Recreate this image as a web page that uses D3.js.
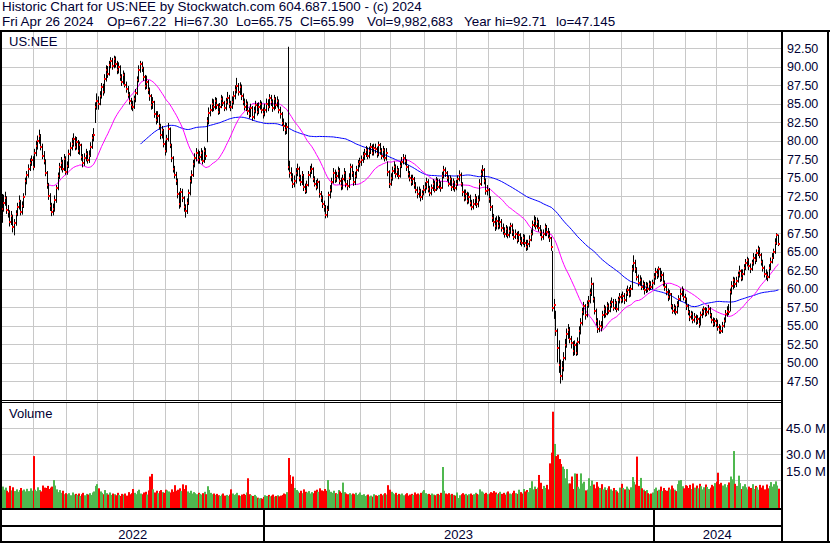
<!DOCTYPE html>
<html>
<head>
<meta charset="utf-8">
<script src="https://cdn.jsdelivr.net/npm/d3@7"></script>
<style>
  body { margin: 0; background: #fff; }
  svg { display: block; font-family: 'Liberation Sans', Arial, sans-serif; }
  .txt { fill: #000033; font-size: 13px; }
  .head { fill: #000033; font-size: 13.4px; }
  .axis { fill: #000033; font-size: 12.5px; }
</style>
</head>
<body>
<svg id="chart" width="830" height="543"></svg>
<script>
//======= data =======//
// trading days per month, May 2022 .. Apr 2024
let monthDays = [21, 21, 20, 23, 21, 21, 21, 21,
  20, 19, 23, 19, 22, 21, 20, 23, 20, 22, 21, 20,
  21, 20, 20, 20];
let years = ['2022', '2023', '2024'];
let monthsPerYear = [8, 12, 4];

let closes = [
  70.8, 71.6, 72.3, 70.6, 70.3, 69.0, 69.8, 68.3, 68.9, 70.1, 71.0, 71.9, 70.4, 71.2, 72.4, 74.6, 75.3, 76.2, 77.0, 77.4, 76.5,
  78.4, 79.3, 80.0, 80.6, 79.2, 78.0, 77.3, 75.7, 74.0, 72.5, 71.2, 70.4, 70.7, 72.0, 73.6, 75.2, 76.4, 77.0, 76.2, 77.5, 75.8,
  76.6, 78.2, 79.0, 79.6, 80.2, 79.1, 79.8, 78.6, 79.4, 77.8, 77.0, 77.6, 78.2, 77.4, 78.0, 79.2, 80.3, 80.8, 84.6, 85.4,
  85.0, 86.0, 87.2, 86.6, 88.4, 89.6, 89.0, 90.2, 90.8, 90.1, 91.0, 90.4, 89.5, 90.0, 88.6, 88.0, 88.9, 87.6, 87.0, 86.2, 85.4, 84.8, 84.6,
  85.6, 86.4, 88.2, 89.6, 90.4, 89.8, 88.6, 87.4, 88.0, 86.8, 86.0, 84.8, 85.2, 83.6, 82.8, 83.4, 82.0, 80.8, 81.4, 79.6, 78.6,
  80.2, 81.6, 79.4, 77.6, 76.2, 75.4, 74.6, 72.8, 71.4, 73.0, 72.2, 71.0, 70.5, 71.6, 72.9, 74.6, 75.4, 76.8, 77.6, 78.4, 77.4,
  77.8, 78.4, 77.2, 78.6, 77.9, 82.6, 83.8, 84.2, 85.0, 84.6, 85.4, 84.8, 83.9, 84.6, 85.6, 85.1, 84.4, 85.2, 85.8, 84.9, 84.6,
  85.3, 86.0, 86.8, 87.4, 86.6, 87.2, 86.0, 85.2, 84.6, 85.0, 84.0, 83.6, 84.4, 83.2, 84.0, 84.8, 83.9, 84.6, 85.0, 84.2, 83.6,
  84.2, 85.0, 84.6, 85.8, 85.2, 84.4, 85.6, 84.8, 85.4, 84.2, 83.6, 82.4, 82.0, 81.4, 81.8, 76.4, 75.6, 75.1, 74.2, 74.6,
  75.6, 76.2, 75.0, 74.4, 75.4, 73.7, 73.2, 74.0, 75.4, 75.9, 76.2, 74.8, 74.2, 73.8, 74.4, 72.8, 72.2, 71.4, 71.0,
  69.9, 70.6, 72.6, 73.4, 74.4, 75.7, 74.8, 75.2, 75.9, 74.6, 73.9, 74.8, 75.6, 74.2, 73.9, 75.0, 76.4, 75.6, 74.4, 75.2, 76.0, 76.9, 77.1,
  77.4, 77.9, 78.2, 78.8, 78.0, 78.6, 79.2, 78.4, 79.0, 78.9, 78.2, 79.4, 78.6, 78.0, 78.8, 77.6, 78.4, 75.8, 74.2,
  75.0, 75.9, 76.4, 75.5, 76.0, 75.2, 76.6, 77.1, 77.7, 77.2, 76.4, 75.5, 75.0, 74.4, 74.8, 74.0, 73.4, 72.8, 73.2, 72.4, 72.8, 73.4,
  73.8, 74.4, 73.5, 72.9, 73.6, 74.2, 73.4, 74.6, 73.8, 74.2, 73.6, 75.2, 76.0, 75.6, 75.0, 74.2, 74.8, 73.7, 74.4, 73.6, 74.2,
  74.8, 75.4, 74.2, 73.0, 72.3, 72.8, 71.9, 72.4, 71.6, 71.0, 71.5, 72.2, 71.4, 72.0, 74.2, 75.5, 76.0, 74.6, 73.2, 73.3,
  72.1, 71.0, 69.6, 69.0, 68.4, 69.2, 68.5, 69.0, 68.2, 67.8, 67.4, 68.0, 67.2, 67.8, 68.4, 67.6, 67.0, 67.4, 66.6, 67.2, 66.4, 66.2, 66.8,
  66.2, 65.6, 66.0, 66.6, 67.4, 68.6, 69.2, 68.5, 69.0, 68.2, 67.6, 67.0, 67.4, 68.3, 67.6, 67.4, 66.8, 65.6, 57.4, 57.8,
  54.2, 51.9, 49.6, 48.2, 49.2, 50.6, 52.4, 53.8, 54.4, 53.2, 52.6, 51.6, 52.4, 51.3, 52.8, 54.2, 55.4, 56.8, 57.6, 56.4, 57.8, 58.3,
  59.4, 60.6, 58.6, 57.0, 55.6, 54.6, 55.0, 54.8, 56.4, 57.2, 56.6, 57.6, 57.0, 57.8, 58.2, 57.4, 58.0, 57.2, 58.4, 58.8, 58.5,
  59.0, 58.4, 59.4, 59.8, 59.2, 60.0, 62.7, 63.4, 62.6, 61.6, 60.8, 61.2, 60.2, 60.6, 59.8, 60.4, 60.0, 60.6, 60.2, 60.7,
  61.6, 62.2, 61.8, 62.6, 61.4, 61.9, 60.8, 60.2, 59.6, 58.8, 59.2, 57.6, 57.0, 57.4, 56.8, 57.8, 58.6, 59.3, 59.8, 58.8, 58.6,
  57.6, 56.8, 56.1, 56.6, 55.8, 56.2, 55.6, 55.9, 55.2, 56.4, 56.8, 57.2, 56.6, 56.9, 57.3, 56.4, 55.8, 55.2, 55.6, 55.3,
  54.8, 54.4, 54.2, 55.0, 55.6, 56.6, 57.0, 56.8, 59.5, 60.4, 61.2, 60.6, 61.0, 61.8, 62.4, 61.4, 62.0, 62.8, 63.4, 63.9,
  63.0, 62.6, 63.4, 64.2, 63.8, 64.8, 65.4, 64.6, 63.6, 62.8, 62.0, 61.8, 61.5, 62.8, 63.6, 64.2, 64.9, 66.2, 67.2, 65.99
];

let highs = [
  72.8, 72.7, 73.1, 72.5, 71.3, 70.6, 70.5, 70.0, 69.4, 70.6, 71.6, 72.6, 72.0, 71.8, 72.9, 75.0, 75.9, 76.8, 77.6, 78.0, 77.9,
  78.9, 80.0, 80.7, 81.5, 80.9, 79.6, 78.6, 77.5, 75.9, 74.3, 72.9, 71.6, 71.5, 72.6, 74.0, 75.7, 77.0, 77.8, 77.4, 78.2, 77.9,
  77.2, 78.8, 79.8, 80.4, 81.0, 80.6, 80.5, 80.1, 79.9, 79.6, 78.2, 78.3, 78.9, 78.6, 78.7, 79.8, 80.9, 81.7, 85.2, 86.4,
  86.0, 86.7, 87.8, 87.7, 89.0, 90.2, 90.1, 90.8, 91.3, 91.2, 91.5, 91.4, 90.8, 90.6, 90.2, 89.0, 89.5, 89.2, 88.0, 87.4, 86.6, 85.8, 85.4,
  86.1, 87.0, 88.7, 90.2, 90.8, 90.7, 90.0, 88.9, 88.8, 88.2, 87.2, 86.3, 85.9, 85.4, 84.0, 84.0, 83.6, 82.3, 82.0, 81.6, 80.0,
  80.8, 82.4, 81.8, 79.6, 77.9, 76.6, 75.8, 74.9, 73.1, 73.6, 73.5, 72.5, 71.4, 72.2, 73.4, 75.2, 76.0, 77.4, 78.3, 79.0, 78.8,
  78.6, 79.0, 78.7, 79.2, 79.0, 83.2, 84.5, 84.9, 85.7, 85.6, 85.9, 85.8, 85.0, 85.1, 86.2, 86.0, 85.4, 85.8, 86.6, 86.2, 85.4,
  86.0, 86.7, 87.5, 88.5, 87.8, 87.9, 87.6, 86.4, 85.7, 85.6, 85.3, 84.5, 85.0, 84.7, 84.6, 85.4, 85.1, 85.2, 85.5, 85.3, 84.5,
  85.0, 85.7, 85.6, 86.3, 86.2, 85.6, 86.2, 85.9, 86.0, 85.6, 84.6, 83.9, 83.0, 82.5, 82.4, 92.71, 77.3, 76.4, 75.6, 75.3,
  76.3, 76.9, 76.5, 75.4, 75.9, 75.5, 74.2, 74.6, 75.9, 76.6, 76.9, 76.4, 75.2, 74.7, 74.9, 74.6, 73.2, 72.6, 71.9,
  71.3, 71.2, 73.1, 74.0, 75.0, 76.3, 76.1, 75.8, 76.5, 76.3, 75.0, 75.4, 76.3, 75.9, 74.7, 75.6, 76.9, 76.8, 75.9, 75.8, 76.6, 77.4, 77.7,
  78.0, 78.5, 78.9, 79.3, 79.1, 79.2, 79.7, 79.5, 79.6, 79.6, 79.2, 79.9, 79.7, 79.0, 79.3, 79.0, 79.0, 77.2, 76.0,
  75.6, 76.5, 77.2, 76.8, 76.6, 76.3, 77.2, 77.8, 78.2, 78.1, 77.5, 76.7, 75.9, 75.4, 75.4, 75.1, 74.4, 73.8, 73.8, 73.5, 73.3, 74.0,
  74.4, 75.0, 74.8, 73.9, 74.1, 74.8, 74.6, 75.1, 74.9, 74.8, 74.5, 75.8, 76.6, 76.4, 75.9, 75.3, 75.3, 75.0, 74.9, 74.6, 74.7,
  75.3, 76.0, 75.7, 74.4, 73.4, 73.4, 73.1, 73.0, 72.7, 72.0, 72.1, 72.8, 72.5, 72.6, 74.8, 76.1, 76.7, 76.3, 74.9, 74.0,
  73.6, 72.5, 71.3, 70.1, 69.6, 69.8, 69.9, 69.7, 69.4, 68.8, 68.3, 68.6, 68.4, 68.4, 68.9, 68.8, 68.0, 68.0, 67.7, 67.8, 67.5, 67.0, 67.4,
  67.3, 66.6, 66.6, 67.2, 68.0, 69.2, 69.9, 69.7, 69.6, 69.3, 68.6, 68.0, 68.0, 68.8, 68.6, 68.2, 67.8, 67.0, 65.1, 58.6,
  57.0, 54.6, 53.0, 50.4, 50.2, 51.4, 53.2, 54.6, 55.2, 54.8, 53.6, 52.9, 53.0, 52.7, 53.4, 54.9, 56.0, 57.4, 58.2, 57.9, 58.4, 59.0,
  60.0, 61.5, 60.8, 58.9, 57.3, 56.0, 55.7, 55.6, 57.0, 57.8, 57.6, 58.2, 58.0, 58.4, 58.8, 58.6, 58.6, 58.3, 58.9, 59.4, 59.3,
  59.6, 59.4, 60.0, 60.4, 60.2, 60.5, 63.2, 64.5, 63.9, 62.9, 61.9, 61.8, 61.5, 61.1, 60.9, 60.9, 60.8, 61.1, 61.0, 61.2,
  62.1, 62.8, 62.7, 63.0, 62.8, 62.4, 62.2, 61.1, 60.6, 60.0, 59.8, 59.4, 57.9, 57.9, 57.7, 58.3, 59.1, 60.0, 60.3, 60.0, 59.3,
  58.8, 57.9, 57.1, 57.0, 56.9, 56.7, 56.5, 56.4, 56.1, 56.9, 57.3, 57.6, 57.5, 57.4, 57.8, 57.5, 56.7, 56.1, 56.0, 56.0,
  55.8, 55.2, 55.0, 55.5, 56.1, 57.1, 57.6, 57.9, 60.0, 61.0, 61.6, 61.5, 61.6, 62.3, 63.1, 62.6, 62.6, 63.3, 64.0, 64.3,
  64.1, 63.4, 63.9, 64.8, 64.7, 65.3, 65.8, 65.6, 64.8, 63.9, 63.1, 62.6, 62.3, 63.3, 64.2, 64.8, 65.4, 66.8, 67.5, 67.3
];

let lows = [
  68.9, 70.4, 71.2, 70.1, 69.6, 68.4, 68.6, 67.6, 67.2, 68.5, 69.8, 70.7, 69.9, 70.0, 70.9, 72.6, 74.1, 75.0, 75.9, 76.6, 76.0,
  76.4, 77.9, 78.8, 79.6, 78.7, 77.5, 76.8, 75.2, 73.5, 72.0, 70.5, 69.8, 69.9, 70.4, 71.6, 73.3, 74.8, 76.0, 75.7, 75.9, 75.4,
  75.4, 76.3, 77.9, 78.7, 79.2, 78.7, 78.8, 78.2, 78.1, 77.3, 76.4, 76.6, 77.2, 76.9, 77.0, 77.8, 78.9, 79.9, 82.4, 84.2,
  84.2, 84.8, 85.7, 86.1, 86.4, 88.0, 88.5, 88.8, 89.8, 89.6, 89.8, 89.9, 89.0, 89.1, 88.1, 87.4, 87.6, 87.2, 86.5, 85.8, 84.9, 84.2, 84.0,
  84.3, 85.2, 86.2, 87.9, 89.2, 89.3, 88.1, 86.9, 87.0, 86.3, 85.4, 84.2, 84.3, 83.1, 82.2, 82.4, 81.5, 80.2, 80.3, 79.1, 78.0,
  78.4, 79.9, 79.0, 77.1, 75.7, 74.9, 74.0, 72.2, 70.8, 71.0, 71.7, 70.4, 69.6, 70.1, 71.3, 72.6, 74.2, 75.1, 76.4, 77.2, 76.9,
  76.9, 77.3, 76.8, 77.0, 77.4, 79.8, 82.2, 83.3, 83.9, 84.0, 84.2, 84.3, 83.5, 83.6, 84.4, 84.7, 84.0, 84.1, 84.9, 84.4, 84.0,
  84.3, 84.9, 85.6, 86.4, 86.1, 86.2, 85.5, 84.8, 84.1, 84.0, 83.5, 83.0, 83.2, 82.7, 82.9, 83.7, 83.4, 83.6, 84.2, 83.7, 83.0,
  83.3, 83.8, 84.0, 84.4, 84.7, 83.9, 84.1, 84.3, 84.5, 83.7, 83.0, 82.0, 81.3, 80.8, 80.9, 76.0, 75.0, 74.5, 73.6, 73.7,
  74.2, 75.2, 74.5, 73.9, 74.0, 73.2, 72.8, 72.9, 73.8, 75.0, 75.5, 74.4, 73.8, 73.3, 73.5, 72.3, 71.7, 70.9, 70.4,
  69.5, 69.6, 70.5, 72.2, 73.0, 74.2, 74.3, 74.4, 74.9, 74.1, 73.3, 73.4, 74.5, 73.7, 73.3, 73.6, 74.7, 75.1, 73.9, 74.0, 74.9, 75.8, 76.4,
  76.6, 77.0, 77.4, 77.8, 77.5, 77.6, 78.2, 78.0, 78.0, 78.3, 77.7, 77.9, 78.1, 77.5, 77.6, 77.2, 77.3, 75.2, 73.6,
  73.9, 74.6, 75.5, 75.0, 75.1, 74.8, 75.0, 76.3, 76.8, 76.7, 75.9, 75.0, 74.5, 73.9, 74.0, 73.5, 72.9, 72.2, 72.3, 71.8, 72.0, 72.6,
  72.9, 73.4, 73.0, 72.5, 72.6, 73.2, 73.0, 73.2, 73.4, 73.5, 73.1, 73.5, 74.9, 75.1, 74.5, 73.8, 73.9, 73.2, 73.3, 73.1, 73.3,
  73.9, 74.5, 73.8, 72.5, 71.8, 71.9, 71.4, 71.5, 71.1, 70.6, 70.7, 71.2, 70.9, 71.0, 71.8, 73.9, 75.1, 74.1, 72.7, 72.6,
  71.6, 70.5, 69.0, 68.4, 67.8, 68.0, 68.0, 68.1, 67.7, 67.3, 66.9, 67.0, 66.8, 66.9, 67.4, 67.1, 66.6, 66.7, 66.1, 66.3, 65.9, 65.7, 65.9,
  65.6, 65.1, 65.2, 65.6, 66.4, 67.2, 68.3, 68.0, 68.1, 67.7, 67.1, 66.5, 66.6, 67.1, 67.1, 66.8, 66.3, 65.1, 56.9, 55.9,
  53.6, 50.0, 48.6, 47.15, 47.6, 48.8, 50.3, 52.0, 53.2, 52.6, 51.9, 50.9, 51.0, 50.9, 51.0, 52.5, 53.8, 55.0, 56.4, 55.8, 56.1, 57.4,
  58.0, 59.0, 58.1, 56.5, 55.0, 54.0, 54.1, 54.2, 54.6, 56.0, 56.1, 56.4, 56.6, 56.8, 57.4, 57.0, 57.1, 56.8, 57.0, 58.0, 58.0,
  58.1, 57.9, 58.2, 59.0, 58.8, 58.9, 59.8, 62.3, 62.1, 61.1, 60.3, 60.4, 59.8, 59.8, 59.2, 59.4, 59.5, 59.7, 59.8, 59.9,
  60.5, 61.2, 61.3, 61.5, 60.9, 61.0, 60.3, 59.7, 59.1, 58.3, 58.5, 57.2, 56.6, 56.6, 56.4, 56.6, 57.5, 58.3, 58.9, 58.4, 58.0,
  57.1, 56.4, 55.6, 55.8, 55.3, 55.4, 55.1, 55.2, 54.7, 55.0, 56.0, 56.4, 56.2, 56.3, 56.5, 56.0, 55.3, 54.8, 54.9, 54.8,
  54.3, 53.9, 53.9, 54.0, 54.7, 55.4, 56.2, 56.4, 56.9, 59.2, 59.9, 60.1, 60.2, 60.8, 61.5, 61.0, 61.1, 61.8, 62.5, 63.0,
  62.5, 62.1, 62.4, 63.1, 63.3, 63.6, 64.4, 64.1, 63.1, 62.3, 61.5, 61.2, 61.0, 61.4, 62.5, 63.4, 64.0, 64.7, 65.9, 65.75
];

// volume in millions of shares
let volumes = [
  11.2, 9.4, 10.6, 8.8, 7.9, 11.6, 9.0, 10.8, 8.6, 9.6, 8.2, 9.2, 10.4, 8.9, 9.5, 8.4, 9.9, 8.6, 10.2, 8.8, 28.8,
  9.4, 8.6, 10.8, 9.2, 8.4, 11.8, 10.6, 10.4, 11.6, 9.8, 10.6, 11.2, 15.0, 11.8, 9.6, 8.0, 9.2, 7.6, 8.8, 6.8, 7.4,
  6.8, 7.4, 6.2, 7.8, 6.6, 7.0, 6.4, 7.2, 5.8, 6.8, 7.6, 6.2, 7.0, 6.6, 7.4, 6.4, 7.8, 8.4, 11.6, 12.6,
  10.2, 8.4, 7.6, 6.8, 9.2, 7.4, 6.6, 7.8, 6.4, 7.2, 6.8, 6.2, 7.6, 6.4, 5.8, 7.0, 6.6, 7.2, 6.0, 8.0, 6.8, 7.4, 9.8,
  7.6, 6.8, 8.6, 9.4, 7.2, 6.8, 7.8, 8.2, 6.6, 9.0, 17.0, 18.5, 9.6, 7.8, 8.8, 7.4, 8.6, 9.2, 8.0, 7.6, 9.4,
  9.0, 8.4, 7.8, 9.6, 8.2, 12.0, 8.8, 9.4, 10.2, 8.6, 12.5, 9.8, 12.0, 8.4, 7.6, 8.8, 7.2, 8.0, 7.4, 6.8, 7.6,
  7.0, 6.6, 7.4, 8.2, 6.8, 11.4, 9.2, 7.6, 6.8, 7.2, 6.4, 7.0, 6.2, 5.8, 6.6, 7.2, 6.0, 6.4, 5.8, 6.6, 9.6,
  7.2, 6.4, 6.8, 7.6, 6.2, 5.8, 6.6, 7.0, 6.4, 7.8, 16.0, 6.8, 6.2, 5.8, 6.4, 5.6, 4.8, 4.4, 4.6, 4.2, 5.2,
  6.2, 5.8, 6.4, 5.6, 6.0, 6.6, 5.4, 5.8, 6.2, 5.6, 6.0, 6.4, 7.2, 6.8, 8.0, 27.7, 17.9, 12.8, 17.0, 10.4,
  9.2, 8.4, 7.6, 8.8, 7.4, 9.6, 8.2, 7.8, 8.6, 7.2, 8.0, 7.4, 8.8, 9.4, 8.2, 10.2, 9.0, 8.6, 9.8,
  8.8, 15.0, 9.4, 8.2, 7.6, 8.8, 7.4, 7.0, 9.2, 8.4, 7.6, 13.5, 8.0, 7.2, 6.8, 7.4, 6.6, 7.2, 6.8, 7.6, 6.4, 7.0, 7.8,
  6.4, 6.8, 5.8, 6.2, 6.6, 5.6, 6.0, 5.4, 6.8, 6.2, 5.8, 6.4, 7.0, 6.2, 6.8, 7.4, 6.6, 12.0, 9.4,
  8.2, 7.4, 6.8, 7.6, 6.4, 7.0, 6.6, 7.2, 6.2, 6.8, 7.4, 6.0, 6.6, 7.0, 6.4, 7.8, 6.8, 7.2, 6.6, 7.6, 8.4, 9.2,
  7.4, 6.8, 7.0, 6.4, 7.2, 6.6, 6.2, 6.8, 7.0, 6.4, 7.6, 22.5, 8.8, 7.2, 6.8, 7.4, 6.6, 7.0, 6.4, 6.0, 7.8,
  4.6, 6.2, 6.8, 7.4, 6.6, 7.0, 6.2, 6.8, 7.2, 6.4, 6.8, 7.6, 7.0, 6.6, 9.6, 8.4, 7.8, 7.0, 7.6, 6.8,
  7.2, 8.0, 7.6, 8.6, 7.8, 6.8, 7.4, 8.2, 7.0, 7.6, 6.6, 7.8, 8.4, 7.2, 6.8, 7.6, 8.8, 7.4, 7.0, 9.4, 8.0, 7.2, 9.8,
  8.4, 9.2, 8.0, 10.4, 14.3, 9.6, 11.2, 9.8, 10.6, 17.9, 13.4, 9.8, 11.6, 10.4, 12.2, 9.6, 24.6, 30.8, 54.4, 35.8,
  28.8, 29.6, 27.1, 24.2, 22.7, 21.3, 16.0, 21.3, 13.0, 13.0, 17.0, 9.8, 18.8, 18.6, 11.1, 10.0, 18.8, 13.0, 14.0, 9.0, 9.5, 16.0,
  11.6, 14.6, 12.4, 10.2, 13.8, 11.2, 10.4, 12.6, 9.6, 10.8, 9.2, 10.2, 11.4, 9.6, 8.8, 10.4, 9.2, 8.4, 7.6, 10.6, 12.8,
  10.4, 9.6, 11.2, 10.0, 9.4, 10.8, 16.7, 14.0, 12.4, 28.5, 11.6, 16.2, 10.2, 9.4, 8.6, 9.2, 7.4, 6.8, 7.2, 7.8,
  9.8, 10.6, 8.8, 9.4, 11.2, 8.6, 10.4, 9.2, 8.8, 10.6, 9.6, 11.8, 10.2, 9.4, 8.6, 12.6, 14.7, 15.0, 11.4, 10.2, 12.0,
  11.6, 10.4, 12.2, 9.8, 13.0, 10.6, 11.8, 10.2, 12.8, 11.4, 9.6, 10.8, 12.4, 11.0, 9.8, 10.6, 12.2, 11.4, 13.2, 14.0,
  19.2, 12.6, 13.4, 11.8, 12.6, 10.8, 12.2, 13.6, 17.0, 15.4, 31.7, 12.8, 11.6, 17.5, 13.2, 9.8, 11.4, 12.6, 10.8, 9.6,
  11.2, 10.4, 12.6, 9.8, 11.6, 10.8, 9.4, 12.2, 10.6, 11.8, 9.6, 12.4, 10.2, 11.6, 13.8, 11.2, 12.6, 14.2, 11.8, 9.98
];

let priceTicks = [92.5, 90, 87.5, 85, 82.5, 80, 77.5, 75, 72.5, 70, 67.5, 65, 62.5, 60, 57.5, 55, 52.5, 50, 47.5];
let volTicks = [45, 30, 15];
let maFast = 30;
let maSlow = 90;

let title = 'Historic Chart for US:NEE by Stockwatch.com 604.687.1500 - (c) 2024';
let quoteParts = ['Fri Apr 26 2024', 'Op=67.22', 'Hi=67.30', 'Lo=65.75', 'Cl=65.99',
  'Vol=9,982,683', 'Year hi=92.71', 'lo=47.145'];
let quoteX = [2, 107, 174, 236, 300, 367, 464, 556];

//======= layout =======//
let svg = d3.select('#chart');
let W = 830, H = 543;
let plotLeft = 2, plotRight = 781;
let priceTop = 32, priceBottom = 401;
let volTop = 403, volBottom = 509;

let n = closes.length;
if (highs.length != n || lows.length != n || volumes.length != n || d3.sum(monthDays) != n) {
  svg.append('text').attr('x', 300).attr('y', 300).attr('fill', 'red')
    .text('len ' + n + ' ' + highs.length + ' ' + lows.length + ' ' + volumes.length + ' ' + d3.sum(monthDays));
}

let x = d3.scaleLinear().domain([0, n - 1]).range([1.5, 778]);
let y = d3.scaleLinear().domain([47.5, 92.5]).range([381, 48.3]);
let yVol = d3.scaleLinear().domain([0, 45]).range([506, 428]);

svg.append('rect').attr('width', W).attr('height', H).attr('fill', '#fff');

// month start indices
let monthStart = [];
let acc = 0;
monthDays.forEach(function (d) { monthStart.push(acc); acc += d; });
let gridX = function (i) { return Math.round(x(i) - 1) + 0.5; };

//======= grid =======//
let grid = svg.append('g').attr('stroke', '#c8c8c8').attr('stroke-width', 1);
monthStart.slice(1).forEach(function (i) {
  grid.append('line').attr('x1', gridX(i)).attr('x2', gridX(i)).attr('y1', priceTop).attr('y2', priceBottom);
  grid.append('line').attr('x1', gridX(i)).attr('x2', gridX(i)).attr('y1', volTop).attr('y2', volBottom);
});
priceTicks.forEach(function (v) {
  let yy = Math.round(y(v)) + 0.5;
  grid.append('line').attr('x1', plotLeft).attr('x2', plotRight).attr('y1', yy).attr('y2', yy);
});
volTicks.forEach(function (v) {
  let yy = Math.round(yVol(v)) + 0.5;
  grid.append('line').attr('x1', plotLeft).attr('x2', plotRight).attr('y1', yy).attr('y2', yy);
});

//======= volume bars =======//
svg.append('g').selectAll('rect')
  .data(volumes)
  .enter()
  .append('rect')
  .attr('x', function (d, i) { return Math.round(x(i)); })
  .attr('width', 2)
  .attr('y', function (d) { return yVol(d); })
  .attr('height', function (d) { return volBottom - yVol(d); })
  .attr('fill', function (d, i) {
    if (i == 0) return '#4fb84f';
    if (closes[i] > closes[i - 1]) return '#4fb84f';
    if (closes[i] < closes[i - 1]) return '#ff0000';
    return '#a8a8a8';
  });

//======= moving averages =======//
function sma(period) {
  let out = [];
  for (let i = period - 1; i < n; i++) {
    out.push({ i: i, v: d3.mean(closes.slice(i - period + 1, i + 1)) });
  }
  return out;
}
let maLine = d3.line()
  .x(function (d) { return x(d.i) + 0.5; })
  .y(function (d) { return y(d.v); });

svg.append('path').datum(sma(maSlow))
  .attr('fill', 'none').attr('stroke', '#0000ff').attr('stroke-width', 1)
  .attr('d', maLine);
svg.append('path').datum(sma(maFast))
  .attr('fill', 'none').attr('stroke', '#ff00ff').attr('stroke-width', 1)
  .attr('d', maLine);

//======= price bars (each bar drawn after the previous close tick) =======//
let bar = svg.append('g').selectAll('g')
  .data(closes)
  .enter()
  .append('g');
bar.append('rect')
  .attr('x', function (d, i) { return Math.round(x(i)); })
  .attr('width', 1)
  .attr('y', function (d, i) { return y(highs[i]); })
  .attr('height', function (d, i) { return Math.max(1, y(lows[i]) - y(highs[i])); })
  .attr('fill', '#000');
bar.append('rect')
  .attr('x', function (d, i) { return Math.round(x(i)); })
  .attr('width', 2)
  .attr('y', function (d) { return Math.round(y(d)) - 1; })
  .attr('height', 2)
  .attr('fill', '#ff0000');

//======= frame =======//
let frame = svg.append('g').attr('fill', '#000');
frame.append('rect').attr('x', 0).attr('y', 30).attr('width', W).attr('height', 2);
frame.append('rect').attr('x', 0).attr('y', 30).attr('width', 2).attr('height', 513);
frame.append('rect').attr('x', plotRight).attr('y', 30).attr('width', 2).attr('height', 513);
frame.append('rect').attr('x', 827).attr('y', 30).attr('width', 2).attr('height', 513);
frame.append('rect').attr('x', 0).attr('y', 400).attr('width', plotRight).attr('height', 1);
frame.append('rect').attr('x', 0).attr('y', 402).attr('width', plotRight).attr('height', 1);
frame.append('rect').attr('x', 0).attr('y', 508).attr('width', plotRight).attr('height', 2);
frame.append('rect').attr('x', 0).attr('y', 525).attr('width', plotRight).attr('height', 2);
frame.append('rect').attr('x', 0).attr('y', 541).attr('width', W).attr('height', 2);

// year dividers and labels
let mIdx = 0;
years.forEach(function (yr, k) {
  let first = monthStart[mIdx];
  mIdx += monthsPerYear[k];
  let last = mIdx < monthStart.length ? monthStart[mIdx] : n;
  let x0 = k == 0 ? plotLeft : gridX(first);
  let x1 = last < n ? gridX(last) : plotRight;
  if (k > 0) {
    svg.append('rect').attr('x', Math.round(x0) - 1).attr('y', 510).attr('width', 2).attr('height', 31).attr('fill', '#000');
  }
  svg.append('text').attr('class', 'txt')
    .attr('x', (x0 + x1) / 2).attr('y', 539)
    .attr('text-anchor', 'middle')
    .text(yr);
});

//======= axis labels =======//
priceTicks.forEach(function (v) {
  svg.append('text').attr('class', 'axis')
    .attr('x', 787).attr('y', y(v) + 4.5)
    .text(d3.format('.2f')(v));
});
volTicks.forEach(function (v) {
  // lowest label sits above its grid line, like the original
  let yy = Math.min(yVol(v), 471);
  svg.append('text').attr('class', 'txt')
    .attr('x', 786).attr('y', yy + 5)
    .text(d3.format('.1f')(v) + ' M');
});

//======= header =======//
svg.append('text').attr('class', 'head').attr('x', 2).attr('y', 11).text(title);
quoteParts.forEach(function (s, k) {
  svg.append('text').attr('class', 'head').attr('x', quoteX[k]).attr('y', 26).text(s);
});
svg.append('text').attr('class', 'txt').attr('x', 9).attr('y', 46).text('US:NEE');
svg.append('text').attr('class', 'txt').attr('x', 9).attr('y', 418).text('Volume');
</script>
</body>
</html>
